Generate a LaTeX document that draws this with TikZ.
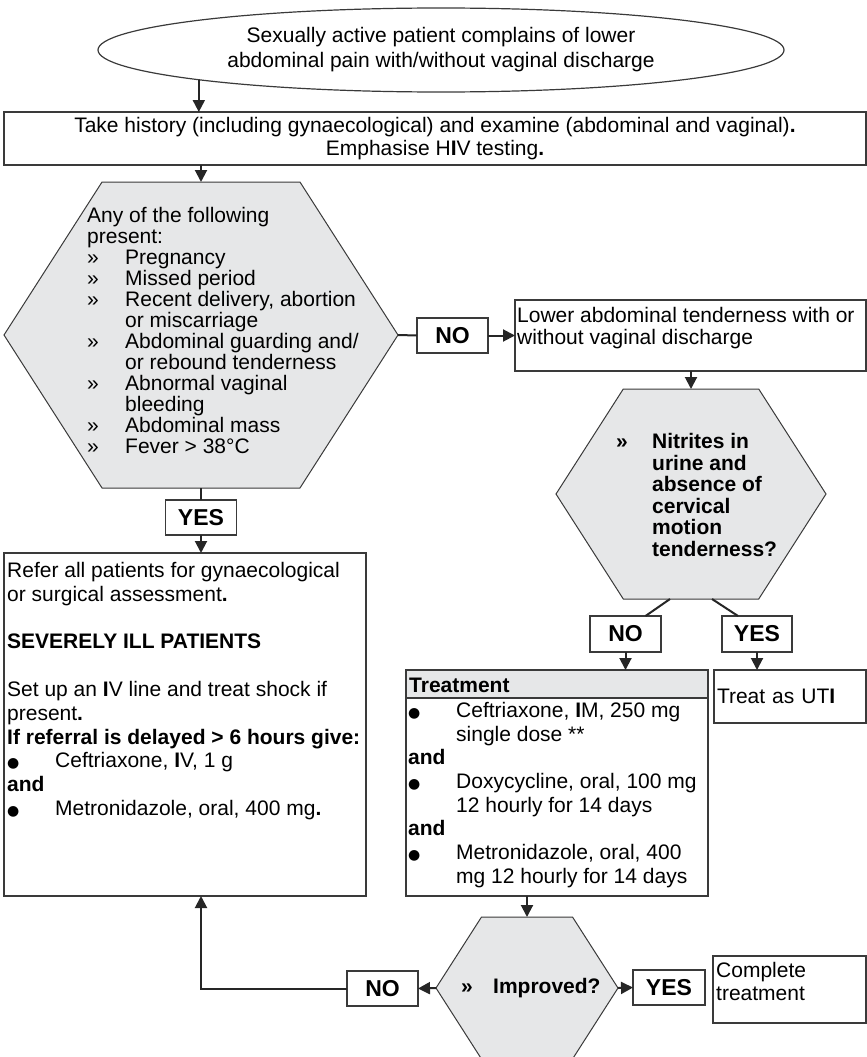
\documentclass[tikz,border=0pt]{standalone}
\usepackage{fontspec}
\setmainfont{Liberation Sans}
\newfontfamily\symfont{DejaVu Sans}
\usetikzlibrary{shapes.geometric}
\usetikzlibrary{shapes.symbols}
\usetikzlibrary{arrows.meta}

\definecolor{hexgray}{HTML}{E6E7E8}
\definecolor{linegray}{HTML}{3A3A3A}
\newcommand{\bI}{\textbf{I}}
\newcommand{\bdot}{\textbf{.}}
\newcommand{\itm}{\makebox[38pt][l]{»}}
\newcommand{\ind}{\hspace*{38pt}}
\newcommand{\bul}{\makebox[48pt][l]{{\symfont\fontsize{14}{14}\selectfont ●}}}
\newcommand{\bind}{\hspace*{48pt}}

\tikzset{
  box/.style={draw=linegray, line width=1.3pt, inner sep=0pt, outer sep=0pt},
  hexnode/.style={shape=signal, signal to=west and east, signal pointer angle=114.7,
    draw=linegray, fill=hexgray, line width=1pt, inner sep=0pt, outer sep=0pt},
  answer/.style={box, minimum height=35pt, minimum width=71pt,
    font=\fontsize{23}{23}\selectfont\bfseries},
  boxtext/.style={anchor=north west, inner sep=0pt, align=left},
  conn/.style={draw=black!85, line width=2pt},
  arr/.style={conn, -{Triangle[length=12pt,width=12pt]}}
}

\begin{document}
\begin{tikzpicture}[x=1pt, y=-1pt]
  \useasboundingbox (0,0) rectangle (867,1057);

  \node[draw=linegray, line width=1.2pt, ellipse, minimum width=686pt, minimum height=84pt,
    inner sep=0pt, outer sep=0pt, align=center, font=\fontsize{21}{25}\selectfont] (start) at (441,50)
    {Sexually active patient complains of lower\\abdominal pain with/without vaginal discharge};
  \node[box, minimum width=862pt, minimum height=53pt, align=center,
    font=\fontsize{21}{23}\selectfont] (hist) at (435,138.5)
    {Take history (including gynaecological) and examine (abdominal and vaginal)\bdot\\Emphasise H\bI V testing\bdot};

  \node[hexnode, minimum width=394pt, minimum height=306pt] (hexA) at (201,335) {};
  \node[boxtext, font=\fontsize{21}{21}\selectfont] (hexAtxt) at (87,207)
    {Any of the following\\present:\\\itm Pregnancy\\\itm Missed period\\
     \itm Recent delivery, abortion\\\ind or miscarriage\\\itm Abdominal guarding and/\\
     \ind or rebound tenderness\\\itm Abnormal vaginal\\\ind bleeding\\
     \itm Abdominal mass\\\itm Fever > 38°C};

  \node[answer] (yesA) at (201,517.5) {YES};
  \node[answer] (noA) at (452.5,335.5) {NO};

  \node[box, anchor=north west, minimum width=362pt, minimum height=343pt] (refer) at (4,553) {};
  \node[boxtext, font=\fontsize{21}{23.8}\selectfont] (refertxt) at (7,562)
    {Refer all patients for gynaecological\\or surgical assessment\bdot\\\mbox{}\\
     \textbf{SEVERELY ILL PATIENTS}\\\mbox{}\\
     Set up an \bI V line and treat shock if\\present\bdot\\
     \textbf{If referral is delayed > 6 hours give:}\\
     \bul Ceftriaxone, \bI V, 1 g\\\textbf{and}\\\bul Metronidazole, oral, 400 mg\bdot};

  \node[box, anchor=north west, minimum width=351pt, minimum height=71pt] (lower) at (515,300) {};
  \node[boxtext, font=\fontsize{21}{22}\selectfont] (lowertxt) at (517,307)
    {Lower abdominal tenderness with or\\without vaginal discharge};

  \node[hexnode, minimum width=270pt, minimum height=210pt] (hexB) at (691,494) {};
  \node[boxtext, font=\fontsize{21}{21.6}\selectfont\bfseries] (hexBtxt) at (616,433)
    {\makebox[36pt][l]{»}Nitrites in\\\hspace*{36pt}urine and\\\hspace*{36pt}absence of\\
     \hspace*{36pt}cervical\\\hspace*{36pt}motion\\\hspace*{36pt}tenderness?};

  \node[answer, minimum height=36pt] (noB) at (625.5,634) {NO};
  \node[answer, minimum height=36pt, minimum width=70pt] (yesB) at (757,634) {YES};

  \node[box, anchor=north west, minimum width=302pt, minimum height=226pt] (treat) at (406,670) {};
  \node[box, fill=hexgray, anchor=north west, minimum width=302pt, minimum height=28pt] (treathead) at (treat.north west) {};
  \node[anchor=west, inner sep=0pt, font=\fontsize{21}{21}\selectfont\bfseries] (treatheadtxt) at (409,685) {Treatment};
  \node[boxtext, font=\fontsize{21}{23.7}\selectfont] (treattxt) at (408,702)
    {\bul Ceftriaxone, \bI M, 250 mg\\\bind single dose **\\\textbf{and}\\
     \bul Doxycycline, oral, 100 mg\\\bind 12 hourly for 14 days\\\textbf{and}\\
     \bul Metronidazole, oral, 400\\\bind mg 12 hourly for 14 days};

  \node[box, anchor=north west, minimum width=152pt, minimum height=53pt, text width=146pt,
    inner xsep=3pt, align=left, font=\fontsize{21}{21}\selectfont] (uti) at (714,670) {Treat as UT\bI};

  \node[hexnode, minimum width=182pt, minimum height=142pt] (hexC) at (527,988) {};
  \node[anchor=west, inner sep=0pt, font=\fontsize{21}{21}\selectfont\bfseries] (hexCtxt) at (461,988)
    {\makebox[32pt][l]{»}Improved?};

  \node[answer] (noC) at (382.5,988.5) {NO};
  \node[answer, minimum width=72pt] (yesC) at (669,987.5) {YES};

  \node[box, anchor=north west, minimum width=153pt, minimum height=67pt] (compl) at (713,956) {};
  \node[boxtext, font=\fontsize{21}{23}\selectfont] (compltxt) at (716,962) {Complete\\treatment};

  \draw[arr] (start.187) -- (start.187 |- hist.north);
  \draw[arr] (hexA.north |- hist.south) -- (hexA.north);
  \draw[conn] (hexA.south) -- (yesA.north);
  \draw[arr] (yesA.south) -- (yesA.south |- refer.north);
  \draw[conn] (hexA.east) -- (noA.west);
  \draw[arr] (noA.east) -- (lower.west |- noA.east);
  \draw[arr] (hexB.north |- lower.south) -- (hexB.north);
  \draw[conn] ([xshift=-21pt]hexB.south) -- ([xshift=20pt]noB.north);
  \draw[conn] ([xshift=21pt]hexB.south) -- ([xshift=-19pt]yesB.north);
  \draw[arr] (noB.south) -- (noB.south |- treat.north);
  \draw[arr] (yesB.south) -- (yesB.south |- uti.north);
  \draw[arr] (hexC.north |- treat.south) -- (hexC.north);
  \draw[arr] (hexC.west) -- (noC.east);
  \draw[arr] (hexC.east) -- (yesC.west);
  \draw[arr] (noC.west) -| (hexA.south |- refer.south);
\end{tikzpicture}
\end{document}
